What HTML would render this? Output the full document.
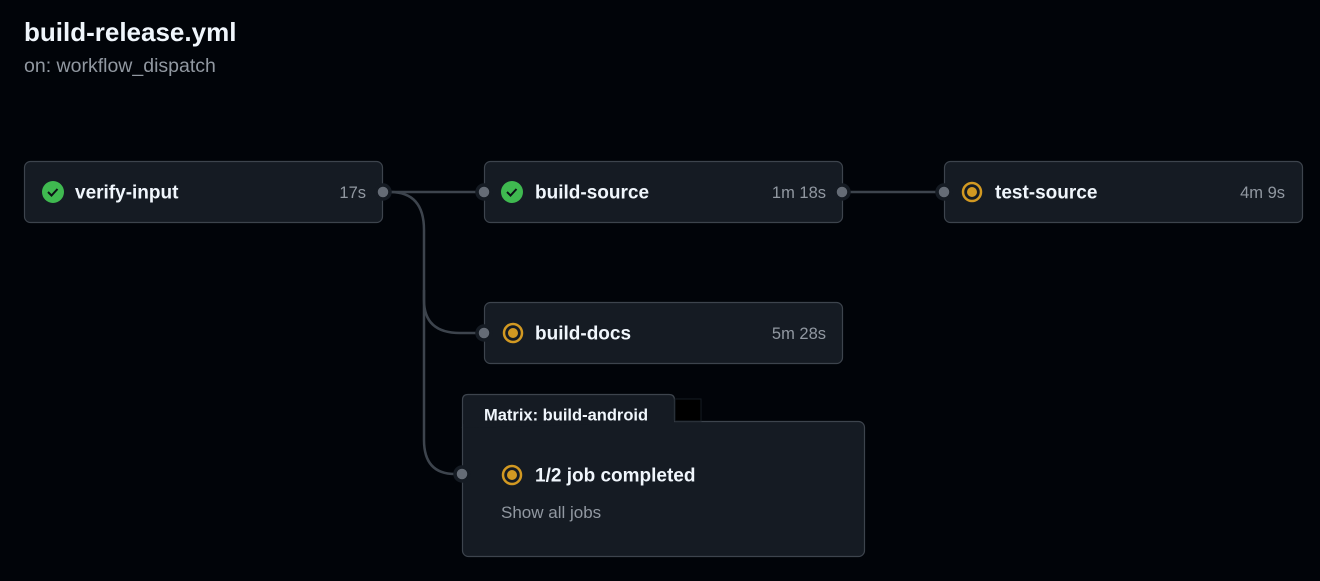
<!DOCTYPE html>
<html><head><meta charset="utf-8"><style>
body{margin:0;width:1320px;height:576px;background:#010409;overflow:hidden;font-family:"Liberation Sans",sans-serif}
</style></head><body>
<svg width="1320" height="576" xmlns="http://www.w3.org/2000/svg" font-family="Liberation Sans, sans-serif">
<rect width="1320" height="576" fill="#010409"/>
<text x="24" y="41" fill="#f0f6fc" font-size="26" font-weight="bold">build-release.yml</text>
<text x="24" y="72" fill="#9198a1" font-size="19.5">on: workflow_dispatch</text>
<g fill="none" stroke="#3d444d" stroke-width="2.5">
<path d="M383 192 H484"/>
<path d="M842 192 H944"/>
<path d="M390 192 Q424 192 424 230 V300 Q424 333 460 333 H484"/>
<path d="M424 290 V440 Q424 474 455 474 H462"/>
</g>
<g fill="#151b23" stroke="#3d444d" stroke-width="1.2">
<rect x="24.5" y="161.5" width="358" height="61" rx="6"/>
<rect x="484.5" y="161.5" width="358" height="61" rx="6"/>
<rect x="944.5" y="161.5" width="358" height="61" rx="6"/>
<rect x="484.5" y="302.5" width="358" height="61" rx="6"/>
<rect x="462.5" y="421.5" width="402" height="135" rx="6"/>
<path d="M462.5 428 V400 Q462.5 394.5 468 394.5 H669 Q674.5 394.5 674.5 400 V421.5"/>
</g>
<rect x="463" y="420" width="211" height="4" fill="#151b23"/>
<rect x="675" y="399" width="26" height="22" fill="#000" stroke="#151b23"/>
<g fill="#656c76" stroke="#151b23" stroke-width="3.5">
<circle cx="383" cy="192" r="7"/><circle cx="484" cy="192" r="7"/>
<circle cx="842" cy="192" r="7"/><circle cx="944" cy="192" r="7"/>
<circle cx="484" cy="333" r="7"/><circle cx="462" cy="474" r="7"/>
</g>
<g>
<circle cx="53" cy="192" r="11" fill="#3fb950"/><path d="M48 192 l3.5 3.5 l6-6.5" stroke="#0d1117" stroke-width="2" fill="none"/>
<circle cx="512" cy="192" r="11" fill="#3fb950"/><path d="M507 192 l3.5 3.5 l6-6.5" stroke="#0d1117" stroke-width="2" fill="none"/>
<circle cx="972" cy="192" r="9" fill="none" stroke="#d29922" stroke-width="2.5"/><circle cx="972" cy="192" r="5" fill="#d29922"/>
<circle cx="513" cy="333" r="9" fill="none" stroke="#d29922" stroke-width="2.5"/><circle cx="513" cy="333" r="5" fill="#d29922"/>
<circle cx="512" cy="475" r="9" fill="none" stroke="#d29922" stroke-width="2.5"/><circle cx="512" cy="475" r="5" fill="#d29922"/>
</g>
<g fill="#f0f6fc" font-size="19" font-weight="bold">
<text x="75" y="198.5">verify-input</text>
<text x="535" y="198.5">build-source</text>
<text x="995" y="198.5">test-source</text>
<text x="535" y="339.5">build-docs</text>
<text x="535" y="481.5">1/2 job completed</text>
<text x="484" y="420.5" font-size="16.5">Matrix: build-android</text>
</g>
<g fill="#9198a1" font-size="16.5" text-anchor="end">
<text x="366" y="198">17s</text>
<text x="826" y="198">1m 18s</text>
<text x="1285" y="198">4m 9s</text>
<text x="826" y="339">5m 28s</text>
</g>
<text x="501" y="518" fill="#9198a1" font-size="17">Show all jobs</text>
</svg>
</body></html>
